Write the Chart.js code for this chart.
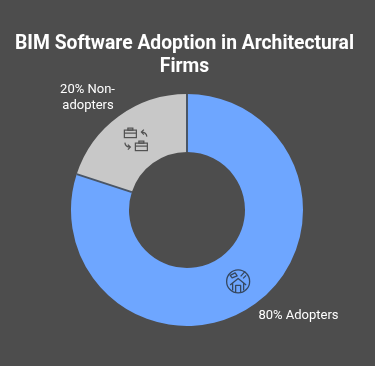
<!DOCTYPE html>
<html>
<head>
<meta charset="utf-8">
<script src="https://cdn.jsdelivr.net/npm/chart.js@4"></script>
<style>
  html, body { margin: 0; padding: 0; background: #4d4d4d; }
  #wrap { width: 375px; height: 366px; position: relative; }
</style>
</head>
<body>
<div id="wrap"><canvas id="chart"></canvas></div>
<script>
const titleLines = ['BIM Software Adoption in Architectural', 'Firms'];
const categories = ['Adopters', 'Non-adopters'];
const values = [80, 20];
const colors = ['#6ea6ff', '#c8c8c8'];

// Small line icons, placed on the middle of each slice
function drawHouseIcon(c, x, y) {
  c.save();
  c.translate(x, y);
  c.strokeStyle = '#35475f';
  c.lineWidth = 1.3;
  c.lineJoin = 'round';
  c.beginPath();
  c.arc(0, 0, 11.5, 0, Math.PI * 2);
  c.stroke();
  c.beginPath();
  c.moveTo(-8, 3.5); c.lineTo(0, -3); c.lineTo(8, 3.5);
  c.moveTo(-5.5, 2); c.lineTo(-5.5, 9);
  c.moveTo(5.5, 2); c.lineTo(5.5, 9);
  c.moveTo(-2.5, 10.5); c.lineTo(-2.5, 4); c.lineTo(2.5, 4); c.lineTo(2.5, 10.5);
  c.moveTo(-8, -6); c.lineTo(-3, -8.5); c.lineTo(-1, -5.5); c.lineTo(-6, -3.5); c.closePath();
  c.moveTo(2.5, -5); c.lineTo(7, -10);
  c.moveTo(5, -3); c.lineTo(8, -6);
  c.stroke();
  c.restore();
}

function drawCase(c, x, y) {
  c.strokeRect(x - 6, y - 3, 12, 7.5);
  c.strokeRect(x - 2.5, y - 5, 5, 2);
  c.beginPath();
  c.moveTo(x - 6, y); c.lineTo(x + 6, y);
  c.stroke();
}

function drawSwapIcon(c, x, y) {
  c.save();
  c.translate(x, y);
  c.strokeStyle = '#505050';
  c.lineWidth = 1.2;
  drawCase(c, -5.5, -6.5);
  drawCase(c, 5.5, 6.5);
  c.beginPath();
  c.moveTo(11, -3); c.quadraticCurveTo(10.5, -7.5, 5.5, -7.5);
  c.moveTo(8, -10); c.lineTo(5.5, -7.5); c.lineTo(8, -5);
  c.moveTo(-11, 3); c.quadraticCurveTo(-10.5, 7.5, -5.5, 7.5);
  c.moveTo(-8, 5); c.lineTo(-5.5, 7.5); c.lineTo(-8, 10);
  c.stroke();
  c.restore();
}

const annotations = {
  id: 'annotations',
  afterDatasetsDraw(chart) {
    const c = chart.ctx;
    const arcs = chart.getDatasetMeta(0).data;
    const mid = arcs.map(a => a.tooltipPosition());

    // thin dark lines between the slices only, no outline around the ring
    c.save();
    c.strokeStyle = '#4a5666';
    c.lineWidth = 2;
    arcs.forEach(a => {
      c.beginPath();
      c.moveTo(a.x + Math.cos(a.startAngle) * a.innerRadius, a.y + Math.sin(a.startAngle) * a.innerRadius);
      c.lineTo(a.x + Math.cos(a.startAngle) * a.outerRadius, a.y + Math.sin(a.startAngle) * a.outerRadius);
      c.stroke();
    });
    c.restore();

    drawHouseIcon(c, mid[0].x, mid[0].y + 1);
    drawSwapIcon(c, mid[1].x, mid[1].y);

    c.save();
    c.textAlign = 'center';
    c.textBaseline = 'middle';
    c.fillStyle = '#ffffff';
    c.font = 'bold 19.3px Roboto';
    titleLines.forEach((line, i) => c.fillText(line, 184.5, 44.5 + i * 23));

    c.font = '13px Roboto';
    c.fillText(values[0] + '% ' + categories[0], 298.5, 315.5);
    c.fillText(values[1] + '% Non-', 87.5, 89.5);
    c.fillText('adopters', 88, 105.5);
    c.restore();
  }
};

new Chart(document.getElementById('chart'), {
  type: 'doughnut',
  data: {
    labels: categories,
    datasets: [{
      data: values,
      backgroundColor: colors,
      borderWidth: 0
    }]
  },
  options: {
    responsive: true,
    maintainAspectRatio: false,
    animation: false,
    cutout: '50%',
    layout: { padding: { left: 71, right: 72, top: 94, bottom: 40 } },
    plugins: {
      legend: { display: false },
      title: { display: false },
      tooltip: { enabled: false }
    }
  },
  plugins: [annotations]
});
</script>
</body>
</html>
